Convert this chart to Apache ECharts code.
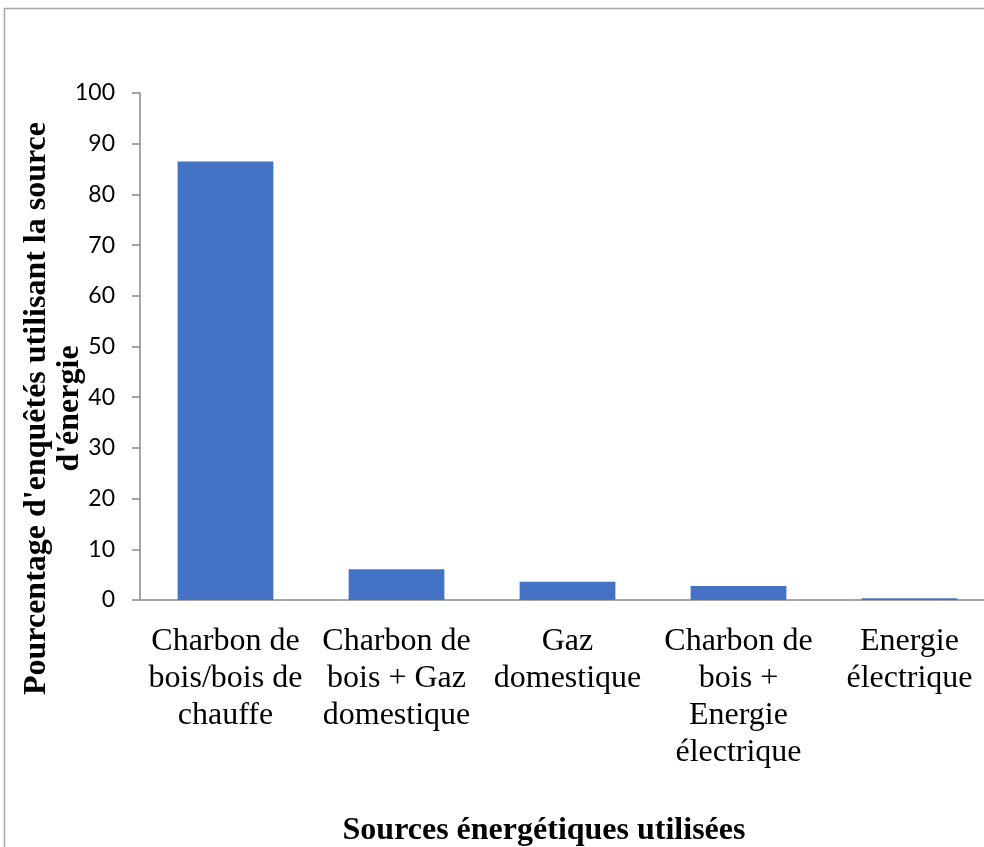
<!DOCTYPE html>
<html>
<head>
<meta charset="utf-8">
<script src="https://cdn.jsdelivr.net/npm/echarts@6/dist/echarts.min.js"></script>
<style>
  html, body { margin: 0; padding: 0; background: #ffffff; }
  #chart { width: 984px; height: 847px; }
</style>
</head>
<body>
<div id="chart"></div>
<script>
// Energy sources used by surveyed households
const categories = [
  'Charbon de\nbois/bois de\nchauffe',
  'Charbon de\nbois + Gaz\ndomestique',
  'Gaz\ndomestique',
  'Charbon de\nbois +\nEnergie\nélectrique',
  'Energie\nélectrique'
];
const percentages = [86.5, 6.05, 3.6, 2.76, 0.33];
const yTicks = { min: 0, max: 100, interval: 10 };
const yTitle = "Pourcentage d'enquêtés utilisant la source\nd'énergie";
const xTitle = 'Sources énergétiques utilisées';

const chart = echarts.init(document.getElementById('chart'), null, { renderer: 'canvas' });

chart.setOption({
  backgroundColor: '#ffffff',
  animation: false,
  grid: {
    left: 140, top: 93, width: 855, height: 507,
    containLabel: false,
    outerBoundsMode: 'none'
  },
  xAxis: {
    type: 'category',
    data: categories,
    axisLine: { show: true, lineStyle: { color: '#898989', width: 1.5 } },
    axisTick: { show: false },
    axisLabel: {
      interval: 0,
      margin: 23,
      color: '#000000',
      fontFamily: '"Liberation Serif", "Times New Roman", serif',
      fontSize: 32,
      lineHeight: 37,
      align: 'center'
    },
    splitLine: { show: false }
  },
  yAxis: {
    type: 'value',
    min: yTicks.min,
    max: yTicks.max,
    interval: yTicks.interval,
    name: yTitle,
    nameLocation: 'middle',
    nameRotate: 90,
    nameGap: 54,
    nameMoveOverlap: false,
    nameTextStyle: {
      color: '#000000',
      fontFamily: '"Liberation Serif", "Times New Roman", serif',
      fontWeight: 'bold',
      fontSize: 32,
      lineHeight: 33,
      align: 'center',
      padding: [0, 124, 0, 0]
    },
    axisLine: { show: true, lineStyle: { color: '#898989', width: 1.5 } },
    axisTick: { show: true, inside: false, length: 8, lineStyle: { color: '#898989', width: 1.5 } },
    axisLabel: {
      margin: 25,
      color: '#000000',
      fontFamily: 'Lato, "Liberation Sans", sans-serif',
      fontSize: 23
    },
    splitLine: { show: false }
  },
  series: [{
    type: 'bar',
    data: percentages,
    barCategoryGap: '44%',
    itemStyle: { color: '#4472C4' }
  }],
  graphic: [
    {
      type: 'rect',
      shape: { x: 4.5, y: 8.5, width: 1000, height: 900 },
      style: { fill: 'none', stroke: '#a6a6a6', lineWidth: 1.5 },
      silent: true
    },
    {
      type: 'text',
      x: 544,
      y: 831,
      style: {
        text: xTitle,
        fill: '#000000',
        font: 'bold 32px "Liberation Serif", "Times New Roman", serif',
        textAlign: 'center',
        textVerticalAlign: 'middle'
      }
    }
  ]
});
</script>
</body>
</html>
